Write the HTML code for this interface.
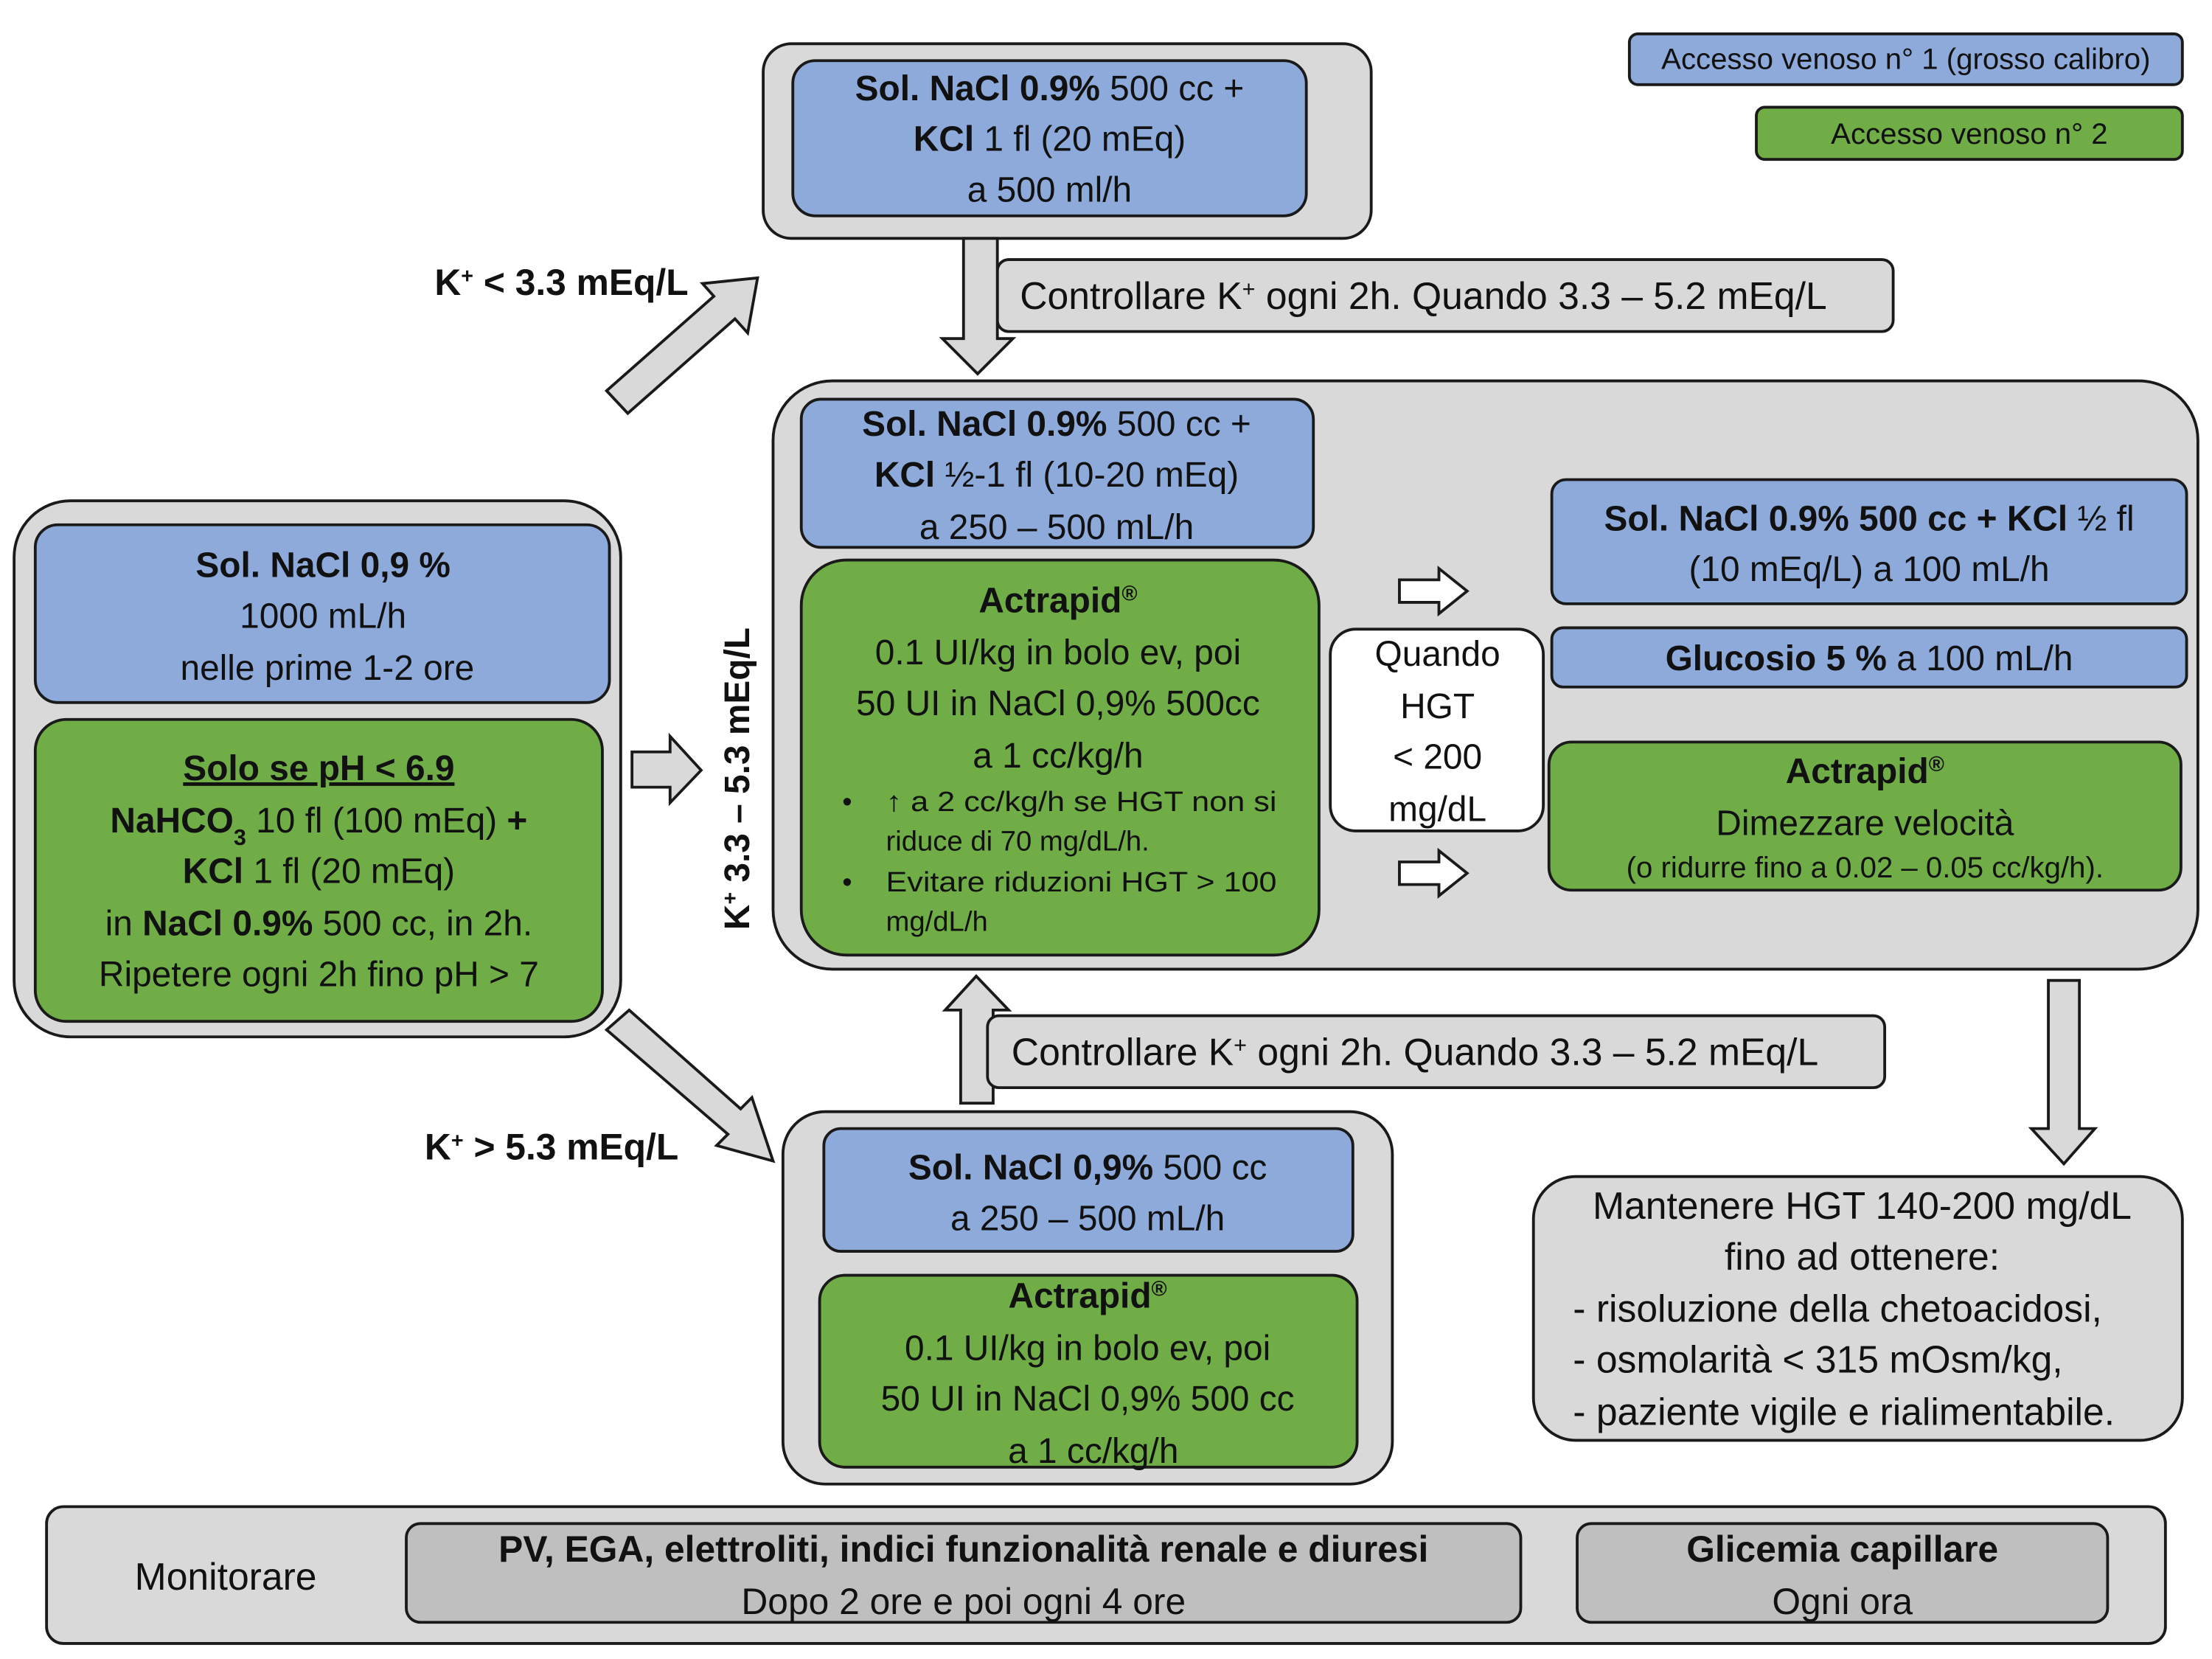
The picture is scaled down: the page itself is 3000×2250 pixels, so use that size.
<!DOCTYPE html>
<html><head><meta charset="utf-8"><style>
html,body{margin:0;padding:0;background:#fff;}
svg{display:block;}
text{font-family:"Liberation Sans",sans-serif;fill:#111;}
.b{font-weight:bold;}
</style></head><body>
<svg width="3000" height="2250" viewBox="0 0 1568 1176" preserveAspectRatio="none" xmlns="http://www.w3.org/2000/svg">
<g stroke="#1a1a1a" stroke-width="2">
<rect x="1155" y="24" width="392" height="36" rx="6" fill="#8eaadb"/>
<rect x="1245" y="76" width="302" height="37" rx="6" fill="#70ad47"/>
<rect x="541" y="31" width="431" height="138" rx="20" fill="#d9d9d9"/>
<rect x="562" y="43" width="364" height="110" rx="16" fill="#8eaadb"/>
<rect x="707" y="184" width="635" height="51" rx="8" fill="#d9d9d9"/>
<polygon points="683,169 707,169 707,240 718,240 693,265 668,240 683,240" fill="#d9d9d9"/>
<polygon points="430,277 506,210 498,201 537,197 530,236 521,226 445,293" fill="#d9d9d9"/>
<rect x="10" y="355" width="430" height="380" rx="40" fill="#d9d9d9"/>
<rect x="25" y="372" width="407" height="126" rx="16" fill="#8eaadb"/>
<rect x="25" y="510" width="402" height="214" rx="22" fill="#70ad47"/>
<polygon points="448,533 475,533 475,522 497,546 475,569 475,558 448,558" fill="#d9d9d9"/>
<rect x="548" y="270" width="1010" height="417" rx="42" fill="#d9d9d9"/>
<rect x="568" y="283" width="363" height="105" rx="14" fill="#8eaadb"/>
<rect x="568" y="397" width="367" height="280" rx="32" fill="#70ad47"/>
<polygon points="992,411 1020,411 1020,403 1040,419 1020,435 1020,427 992,427" fill="#fff"/>
<polygon points="992,611 1020,611 1020,603 1040,619 1020,635 1020,627 992,627" fill="#fff"/>
<rect x="943" y="446" width="151" height="143" rx="18" fill="#fff"/>
<rect x="1100" y="340" width="450" height="88" rx="10" fill="#8eaadb"/>
<rect x="1100" y="445" width="450" height="42" rx="8" fill="#8eaadb"/>
<rect x="1098" y="526" width="448" height="105" rx="16" fill="#70ad47"/>
<polygon points="1452,695 1474,695 1474,800 1485,800 1463,825 1440,800 1452,800" fill="#d9d9d9"/>
<polygon points="681,782 704,782 704,716 715,716 692,692 670,716 681,716" fill="#d9d9d9"/>
<rect x="700" y="720" width="636" height="51" rx="8" fill="#d9d9d9"/>
<polygon points="430,730 446,716 525,786 533,778 548,823 508,812 516,804" fill="#d9d9d9"/>
<rect x="555" y="788" width="432" height="264" rx="30" fill="#d9d9d9"/>
<rect x="584" y="800" width="375" height="87" rx="12" fill="#8eaadb"/>
<rect x="581" y="904" width="381" height="136" rx="18" fill="#70ad47"/>
<rect x="1087" y="834" width="460" height="187" rx="30" fill="#d9d9d9"/>
<rect x="33" y="1068" width="1502" height="97" rx="12" fill="#d9d9d9"/>
<rect x="288" y="1080" width="790" height="70" rx="10" fill="#bfbfbf"/>
<rect x="1118" y="1080" width="376" height="70" rx="10" fill="#bfbfbf"/>
</g>
<g font-size="25" text-anchor="middle">
<text x="1351" y="49" font-size="21">Accesso venoso n° 1 (grosso calibro)</text>
<text x="1396" y="102" font-size="21">Accesso venoso n° 2</text>
<text x="744" y="71"><tspan class="b">Sol. NaCl 0.9%</tspan> 500 cc +</text>
<text x="744" y="107"><tspan class="b">KCl</tspan> 1 fl (20 mEq)</text>
<text x="744" y="143">a 500 ml/h</text>
<text x="1009" y="219" font-size="27">Controllare K<tspan baseline-shift="super" font-size="16">+</tspan> ogni 2h. Quando 3.3 – 5.2 mEq/L</text>
<text x="398" y="209" class="b" font-size="26">K<tspan baseline-shift="super" font-size="15">+</tspan> &lt; 3.3 mEq/L</text>
<text x="229" y="409" class="b">Sol. NaCl 0,9 %</text>
<text x="229" y="445">1000 mL/h</text>
<text x="232" y="482">nelle prime 1-2 ore</text>
<text x="226" y="553" class="b" text-decoration="underline">Solo se pH &lt; 6.9</text>
<text x="226" y="590"><tspan class="b">NaHCO<tspan font-size="16" baseline-shift="sub">3</tspan></tspan> 10 fl (100 mEq) <tspan class="b">+</tspan></text>
<text x="226" y="626"><tspan class="b">KCl</tspan> 1 fl (20 mEq)</text>
<text x="226" y="663">in <tspan class="b">NaCl 0.9%</tspan> 500 cc, in 2h.</text>
<text x="226" y="699">Ripetere ogni 2h fino pH &gt; 7</text>
<text x="0" y="0" class="b" font-size="25" transform="translate(531,552) rotate(-90)">K<tspan baseline-shift="super" font-size="15">+</tspan> 3.3 – 5.3  mEq/L</text>
<text x="749" y="309"><tspan class="b">Sol. NaCl 0.9%</tspan> 500 cc +</text>
<text x="749" y="345"><tspan class="b">KCl</tspan> ½-1 fl (10-20 mEq)</text>
<text x="749" y="382">a 250 – 500 mL/h</text>
<text x="750" y="434" class="b">Actrapid<tspan font-size="15" baseline-shift="super">®</tspan></text>
<text x="750" y="471">0.1 UI/kg in bolo ev, poi</text>
<text x="750" y="507">50 UI in NaCl 0,9% 500cc</text>
<text x="750" y="544">a 1 cc/kg/h</text>
<g text-anchor="start" font-size="20">
<text x="597" y="575">•</text><text x="628" y="575" textLength="277" lengthAdjust="spacingAndGlyphs">↑ a 2 cc/kg/h se HGT non si</text>
<text x="628" y="603">riduce di 70 mg/dL/h.</text>
<text x="597" y="632">•</text><text x="628" y="632" textLength="277" lengthAdjust="spacingAndGlyphs">Evitare riduzioni HGT &gt; 100</text>
<text x="628" y="660">mg/dL/h</text>
</g>
<text x="1019" y="472" font-size="25">Quando</text>
<text x="1019" y="509" font-size="25">HGT</text>
<text x="1019" y="545" font-size="25">&lt; 200</text>
<text x="1019" y="582" font-size="25">mg/dL</text>
<text x="1325" y="376"><tspan class="b">Sol. NaCl 0.9% 500 cc + KCl</tspan> ½ fl</text>
<text x="1325" y="412">(10 mEq/L) a 100 mL/h</text>
<text x="1325" y="475"><tspan class="b">Glucosio 5 %</tspan> a 100 mL/h</text>
<text x="1322" y="555" class="b">Actrapid<tspan font-size="15" baseline-shift="super">®</tspan></text>
<text x="1322" y="592">Dimezzare velocità</text>
<text x="1322" y="622" font-size="21">(o ridurre fino a 0.02 – 0.05 cc/kg/h).</text>
<text x="1003" y="755" font-size="27">Controllare K<tspan baseline-shift="super" font-size="16">+</tspan> ogni 2h. Quando 3.3 – 5.2 mEq/L</text>
<text x="391" y="822" class="b" font-size="26">K<tspan baseline-shift="super" font-size="15">+</tspan> &gt; 5.3 mEq/L</text>
<text x="771" y="836"><tspan class="b">Sol. NaCl 0,9%</tspan> 500 cc</text>
<text x="771" y="872">a 250 – 500 mL/h</text>
<text x="771" y="927" class="b">Actrapid<tspan font-size="15" baseline-shift="super">®</tspan></text>
<text x="771" y="964">0.1 UI/kg in bolo ev, poi</text>
<text x="771" y="1000">50 UI in NaCl 0,9% 500 cc</text>
<text x="775" y="1037">a 1 cc/kg/h</text>
<text x="1320" y="864" font-size="27">Mantenere HGT 140-200 mg/dL</text>
<text x="1320" y="900" font-size="27">fino ad ottenere:</text>
<g text-anchor="start" font-size="27">
<text x="1115" y="937">- risoluzione della chetoacidosi,</text>
<text x="1115" y="973">- osmolarità &lt; 315 mOsm/kg,</text>
<text x="1115" y="1010">- paziente vigile e rialimentabile.</text>
</g>
<text x="160" y="1127" font-size="27">Monitorare</text>
<text x="683" y="1107" class="b" font-size="26">PV, EGA, elettroliti, indici funzionalità renale e diuresi</text>
<text x="683" y="1144" font-size="26">Dopo 2 ore e poi ogni 4 ore</text>
<text x="1306" y="1107" class="b" font-size="26">Glicemia capillare</text>
<text x="1306" y="1144" font-size="26">Ogni ora</text>
</g>
</svg>
</body></html>
